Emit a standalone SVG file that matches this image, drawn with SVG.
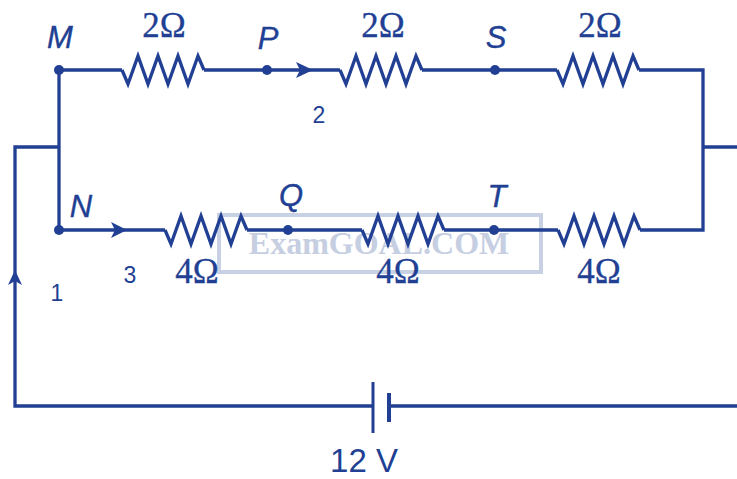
<svg xmlns="http://www.w3.org/2000/svg" width="737" height="479" viewBox="0 0 737 479">
<defs>
<style>
.w{fill:none;stroke:#213f93;stroke-width:3.3;stroke-linejoin:miter;stroke-linecap:butt}
.d{fill:#213f93}
.lbl{font-family:"Liberation Sans",Arial,sans-serif;font-style:italic;font-size:31px;fill:#213f93;stroke:#213f93;stroke-width:0.4;text-anchor:middle}
.num{font-family:"Liberation Sans",Arial,sans-serif;font-size:23px;fill:#213f93;text-anchor:middle}
.ohm{font-family:"Liberation Serif","Times New Roman",serif;font-size:35px;fill:#213f93;stroke:#213f93;stroke-width:0.3;text-anchor:middle}
.wm{font-family:"Liberation Serif","Times New Roman",serif;font-weight:bold;font-size:32px;fill:#c6cee2;text-anchor:middle}
</style>
<path id="res" d="M0,0 L6,14 L16,-14 L26,14 L36,-14 L46,14 L56,-14 L66,14 L76,-14 L82,0"/>
</defs>
<rect width="737" height="479" fill="#ffffff"/>
<g id="watermark">
<rect x="219" y="215" width="322" height="57" fill="#ffffff" fill-opacity="0.3" stroke="#c8d0e3" stroke-width="4"/>
<text class="wm" x="379" y="254">ExamGOAL.COM</text>
</g>
<g id="connectors">
<path class="w" d="M59,70 H122 M204,70 H340 M422,70 H557 M639,70 H703 V230 H640"/>
<path class="w" d="M59,70 V230 H165 M247,230 H362 M444,230 H558"/>
<path class="w" d="M59,147 H15 V406 H373 M389,406 H737"/>
<path class="w" d="M703,147 H737"/>
<path class="d" d="M313,70 L296,62 L300,70 L296,78 Z"/>
<path class="d" d="M127,230 L111,222 L115,230 L111,238 Z"/>
<path class="d" d="M15,270 L8,285 L15,281 L22,285 Z"/>
</g>
<g id="R1"><use href="#res" class="w" x="122" y="70"/><text class="ohm" x="164" y="37">2Ω</text></g>
<g id="R2"><use href="#res" class="w" x="340" y="70"/><text class="ohm" x="383" y="37">2Ω</text></g>
<g id="R3"><use href="#res" class="w" x="557" y="70"/><text class="ohm" x="600" y="37">2Ω</text></g>
<g id="R4"><use href="#res" class="w" x="165" y="230"/><text class="ohm" x="197" y="283">4Ω</text></g>
<g id="R5"><use href="#res" class="w" x="362" y="230"/><text class="ohm" x="398" y="283">4Ω</text></g>
<g id="R6"><use href="#res" class="w" x="558" y="230"/><text class="ohm" x="599" y="283">4Ω</text></g>
<g id="M"><circle class="d" cx="59" cy="70" r="5"/><text class="lbl" x="60" y="48">M</text></g>
<g id="P"><circle class="d" cx="267" cy="70" r="5"/><text class="lbl" x="268" y="49">P</text></g>
<g id="S"><circle class="d" cx="495" cy="70" r="5"/><text class="lbl" x="496" y="48">S</text></g>
<g id="N"><circle class="d" cx="59" cy="230" r="5"/><text class="lbl" x="81" y="217">N</text></g>
<g id="Q"><circle class="d" cx="288" cy="230" r="5"/><text class="lbl" x="291" y="206">Q</text></g>
<g id="T"><circle class="d" cx="494" cy="230" r="5"/><text class="lbl" x="497" y="207">T</text></g>
<g id="battery">
<line x1="373" y1="382" x2="373" y2="433" stroke="#213f93" stroke-width="3"/>
<line x1="389" y1="393" x2="389" y2="422" stroke="#213f93" stroke-width="4"/>
<text class="num" style="font-size:33px" x="364" y="472">12 V</text>
</g>
<g id="currents">
<text class="num" x="319" y="123">2</text>
<text class="num" x="130" y="283">3</text>
<text class="num" x="57" y="301">1</text>
</g>
</svg>
